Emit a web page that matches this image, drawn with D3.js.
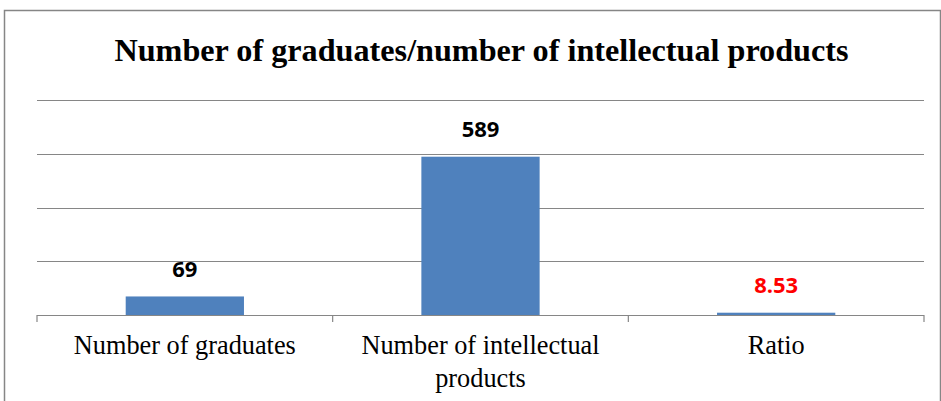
<!DOCTYPE html>
<html><head><meta charset="utf-8">
<script src="https://cdn.jsdelivr.net/npm/d3@7"></script>
<style>
body{margin:0;background:#fff;}svg{display:block;}
.serif{font-family:"Liberation Serif","Times New Roman",serif;}
.sans{font-family:"Open Sans","Liberation Sans",sans-serif;}
</style>
</head><body>
<svg id="c" width="941" height="401"></svg>
<script>
const categories = ["Number of graduates", "Number of intellectual products", "Ratio"];
const values = [69, 589, 8.53];
const labels = ["69", "589", "8.53"];
const labelColors = ["#000", "#000", "#ff0000"];
const yTicks = [0, 200, 400, 600, 800];

const svg = d3.select("#c");
const m = {left: 37, right: 924, top: 100, bottom: 315};
svg.append("rect").attr("x", 4.5).attr("y", 10.5).attr("width", 936).attr("height", 400)
  .attr("fill", "none").attr("stroke", "#868686").attr("stroke-width", 1.5);

svg.append("text").attr("class", "serif").attr("x", 481.5).attr("y", 61).attr("text-anchor", "middle")
  .attr("font-weight", "bold").attr("font-size", 32.2)
  .text("Number of graduates/number of intellectual products");

const xb = d3.scaleBand().domain(categories).range([m.left, m.right]);
const y = d3.scaleLinear().domain([0, 800]).range([m.bottom, m.top]);

svg.append("g").selectAll("line").data(yTicks.slice(1)).join("line")
  .attr("x1", m.left).attr("x2", m.right).attr("y1", d => Math.round(y(d)) + 0.5).attr("y2", d => Math.round(y(d)) + 0.5)
  .attr("stroke", "#868686").attr("stroke-width", 1.2);

svg.append("g").selectAll("rect").data(values).join("rect")
  .attr("x", (d, i) => xb(categories[i]) + xb.bandwidth() * 0.3)
  .attr("width", xb.bandwidth() * 0.4)
  .attr("y", d => y(d)).attr("height", d => y(0) - y(d))
  .attr("fill", "#4f81bd");

const ax = svg.append("g");
ax.append("line").attr("x1", m.left).attr("x2", m.right).attr("y1", m.bottom + 0.5).attr("y2", m.bottom + 0.5)
  .attr("stroke", "#868686").attr("stroke-width", 1.2);
const tickX = categories.map(c => xb(c)).concat([m.right]);
ax.selectAll("line.t").data(tickX).join("line").attr("class", "t")
  .attr("x1", d => d).attr("x2", d => d).attr("y1", m.bottom).attr("y2", m.bottom + 7)
  .attr("stroke", "#868686").attr("stroke-width", 1.2);

const catLines = [["Number of graduates"], ["Number of intellectual", "products"], ["Ratio"]];
categories.forEach((c, i) => {
  const cx = xb(c) + xb.bandwidth() / 2;
  const t = svg.append("text").attr("class", "serif").attr("x", cx).attr("y", 354)
    .attr("text-anchor", "middle").attr("font-size", 26.3).attr("fill", "#000");
  catLines[i].forEach((l, j) => t.append("tspan").attr("x", cx).attr("dy", j ? 33 : 0).text(l));
});

svg.append("g").selectAll("text").data(values).join("text").attr("class", "sans")
  .attr("x", (d, i) => xb(categories[i]) + xb.bandwidth() / 2)
  .attr("y", d => y(d) - 19.5)
  .attr("text-anchor", "middle")
  .attr("font-weight", "bold").attr("font-size", 22)
  .attr("fill", (d, i) => labelColors[i]).text((d, i) => labels[i]);
</script>
</body></html>
